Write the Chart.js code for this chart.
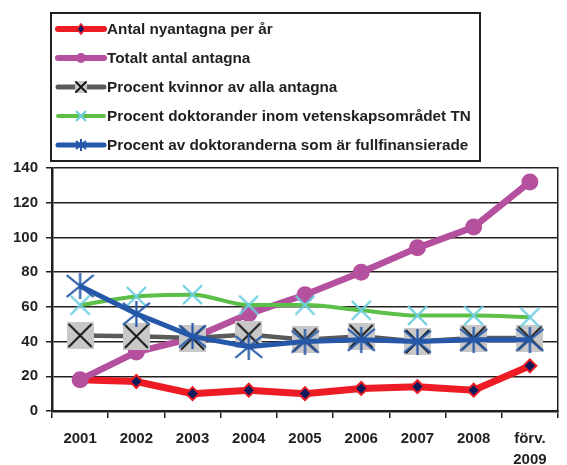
<!DOCTYPE html>
<html>
<head>
<meta charset="utf-8">
<script src="https://cdn.jsdelivr.net/npm/chart.js@4.4.0/dist/chart.umd.min.js"></script>
<style>
  body { margin: 0; background: #fff; font-family: "Liberation Sans", Arial, sans-serif; }
  #wrap { position: relative; width: 567px; height: 465px; }
  #legend { position: absolute; left: 50px; top: 12px; width: 427px; height: 146px; border: 2px solid #231f20; background: #fff; }
  .item { position: absolute; left: 3px; height: 29px; display: flex; align-items: center; font-weight: bold; font-size: 15.3px; color: #231f20; white-space: nowrap; }
  .item canvas { margin-right: 0; }
</style>
</head>
<body>
<div id="wrap">
  <canvas id="chart" width="567" height="465"></canvas>
  <div id="legend"></div>
</div>
<script>
// data
const labels = ['2001', '2002', '2003', '2004', '2005', '2006', '2007', '2008', ['förv.', '2009']];
const nyantagna = [18, 17, 10, 12, 10, 13, 14, 12, 26];
const totaltAntagna = [18, 34, 42, 56, 67, 80, 94, 106, 132];
const procentKvinnor = [43.5, 43, 42, 44, 41, 43, 40, 42, 42];
const procentTN = [61, 66, 67, 61, 61, 58, 55, 55, 54];
const procentFullfin = [72, 56, 43, 37, 40, 41, 40, 41, 41];
const yTicks = [0, 20, 40, 60, 80, 100, 120, 140];

const seriesNames = [
  'Antal nyantagna per år',
  'Totalt antal antagna',
  'Procent kvinnor av alla antagna',
  'Procent doktorander inom vetenskapsområdet TN',
  'Procent av doktoranderna som är fullfinansierade'
];

const RED = '#ed1c24', NAVY = '#0d1b5c', MAGENTA = '#b5509e', GRAY = '#5a5a5a',
      GREEN = '#5cbf47', CYAN = '#6dcfe0', BLUE = '#2558a8', INK = '#231f20';

// marker images
function grayBox(size) {
  const c = document.createElement('canvas');
  c.width = size; c.height = size;
  const g = c.getContext('2d');
  g.fillStyle = '#c8c8c8';
  g.fillRect(0, 0, size, size);
  g.strokeStyle = '#111';
  g.lineWidth = 1.8;
  g.beginPath();
  g.moveTo(2, 2); g.lineTo(size - 2, size - 2);
  g.moveTo(size - 2, 2); g.lineTo(2, size - 2);
  g.stroke();
  return c;
}
function crossMark(size, color, lw) {
  const c = document.createElement('canvas');
  c.width = size; c.height = size;
  const g = c.getContext('2d');
  g.strokeStyle = color;
  g.lineWidth = lw;
  g.beginPath();
  g.moveTo(1, 1); g.lineTo(size - 1, size - 1);
  g.moveTo(size - 1, 1); g.lineTo(1, size - 1);
  g.stroke();
  return c;
}
function asterisk(w, h, color, lw) {
  const c = document.createElement('canvas');
  c.width = w; c.height = h;
  const g = c.getContext('2d');
  g.strokeStyle = color;
  g.lineWidth = lw;
  g.beginPath();
  g.moveTo(1, 2); g.lineTo(w - 1, h - 2);
  g.moveTo(w - 1, 2); g.lineTo(1, h - 2);
  g.moveTo(w / 2, 0); g.lineTo(w / 2, h);
  g.stroke();
  return c;
}

const grayMarker = grayBox(27);
const cyanMarker = crossMark(21, CYAN, 2.2);
const blueMarker = asterisk(29, 26, BLUE, 2.2);

// legend
const legendEl = document.getElementById('legend');
function sample(i) {
  const c = document.createElement('canvas');
  c.width = 52; c.height = 20;
  const g = c.getContext('2d');
  const cy = 10;
  const lineCol = [RED, MAGENTA, GRAY, GREEN, BLUE][i];
  const lw = [6, 6, 5, 4, 5][i];
  g.strokeStyle = lineCol;
  g.lineWidth = lw;
  g.lineCap = 'round';
  g.beginPath(); g.moveTo(3, cy); g.lineTo(49, cy); g.stroke();
  if (i === 0) {
    g.fillStyle = NAVY; g.strokeStyle = RED; g.lineWidth = 1.5;
    g.beginPath(); g.moveTo(26, cy - 5); g.lineTo(30, cy); g.lineTo(26, cy + 5); g.lineTo(22, cy); g.closePath();
    g.fill(); g.stroke();
  } else if (i === 1) {
    g.fillStyle = MAGENTA;
    g.beginPath(); g.arc(26, cy, 5, 0, Math.PI * 2); g.fill();
  } else if (i === 2) {
    g.fillStyle = '#c8c8c8'; g.fillRect(20, cy - 6, 12, 12);
    g.strokeStyle = '#111'; g.lineWidth = 1.8;
    g.beginPath(); g.moveTo(21, cy - 5); g.lineTo(31, cy + 5); g.moveTo(31, cy - 5); g.lineTo(21, cy + 5); g.stroke();
  } else if (i === 3) {
    g.drawImage(crossMark(12, CYAN, 2), 20, cy - 6);
  } else {
    g.drawImage(asterisk(12, 12, BLUE, 2), 20, cy - 6);
  }
  return c;
}
seriesNames.forEach((name, i) => {
  const row = document.createElement('div');
  row.className = 'item';
  row.style.top = (i * 29) + 'px';
  row.appendChild(sample(i));
  const span = document.createElement('span');
  span.textContent = name;
  row.appendChild(span);
  legendEl.appendChild(row);
});

const font = { family: '"Liberation Sans", Arial, sans-serif', size: 15, weight: 'bold', lineHeight: 1.4 };

new Chart(document.getElementById('chart'), {
  type: 'line',
  data: {
    labels: labels,
    datasets: [
      {
        label: seriesNames[0], data: nyantagna, order: 5,
        borderColor: RED, borderWidth: 7,
        pointStyle: 'rectRot', pointRadius: 6.5, pointBackgroundColor: NAVY,
        pointBorderColor: RED, pointBorderWidth: 2
      },
      {
        label: seriesNames[1], data: totaltAntagna, order: 4,
        borderColor: MAGENTA, borderWidth: 6.5,
        pointStyle: 'circle', pointRadius: 8.5, pointBackgroundColor: MAGENTA,
        pointBorderColor: MAGENTA, pointBorderWidth: 0
      },
      {
        label: seriesNames[2], data: procentKvinnor, order: 3,
        borderColor: GRAY, borderWidth: 4.5,
        pointStyle: grayMarker
      },
      {
        label: seriesNames[3], data: procentTN, order: 2,
        borderColor: GREEN, borderWidth: 4, cubicInterpolationMode: 'monotone',
        pointStyle: cyanMarker
      },
      {
        label: seriesNames[4], data: procentFullfin, order: 1,
        borderColor: BLUE, borderWidth: 5,
        pointStyle: blueMarker
      }
    ]
  },
  options: {
    responsive: false,
    animation: false,
    layout: { padding: { top: 168, right: 0, left: 0, bottom: 0 } },
    plugins: { legend: { display: false }, tooltip: { enabled: false } },
    scales: {
      x: {
        offset: true,
        grid: { offset: true, drawOnChartArea: false, color: INK, lineWidth: 1.5, tickLength: 7 },
        border: { color: INK, width: 2.5 },
        ticks: { color: INK, font: font, padding: 10, maxRotation: 0, autoSkip: false },
        afterFit(s) { s.height = 54; }
      },
      y: {
        min: 0, max: 140,
        afterBuildTicks(s) { s.ticks = yTicks.map(v => ({ value: v })); },
        grid: { color: INK, lineWidth: 1.5, tickLength: 6 },
        border: { color: INK, width: 2.5 },
        ticks: { color: INK, font: { family: font.family, size: 15, weight: 'bold' }, padding: 8 },
        afterFit(s) { s.width = 52; }
      },
      y2: {
        position: 'right', min: 0, max: 140,
        grid: { display: false },
        border: { display: true, color: INK, width: 1.5 },
        ticks: { display: false },
        afterFit(s) { s.width = 1; }
      }
    }
  }
});
</script>
</body>
</html>
